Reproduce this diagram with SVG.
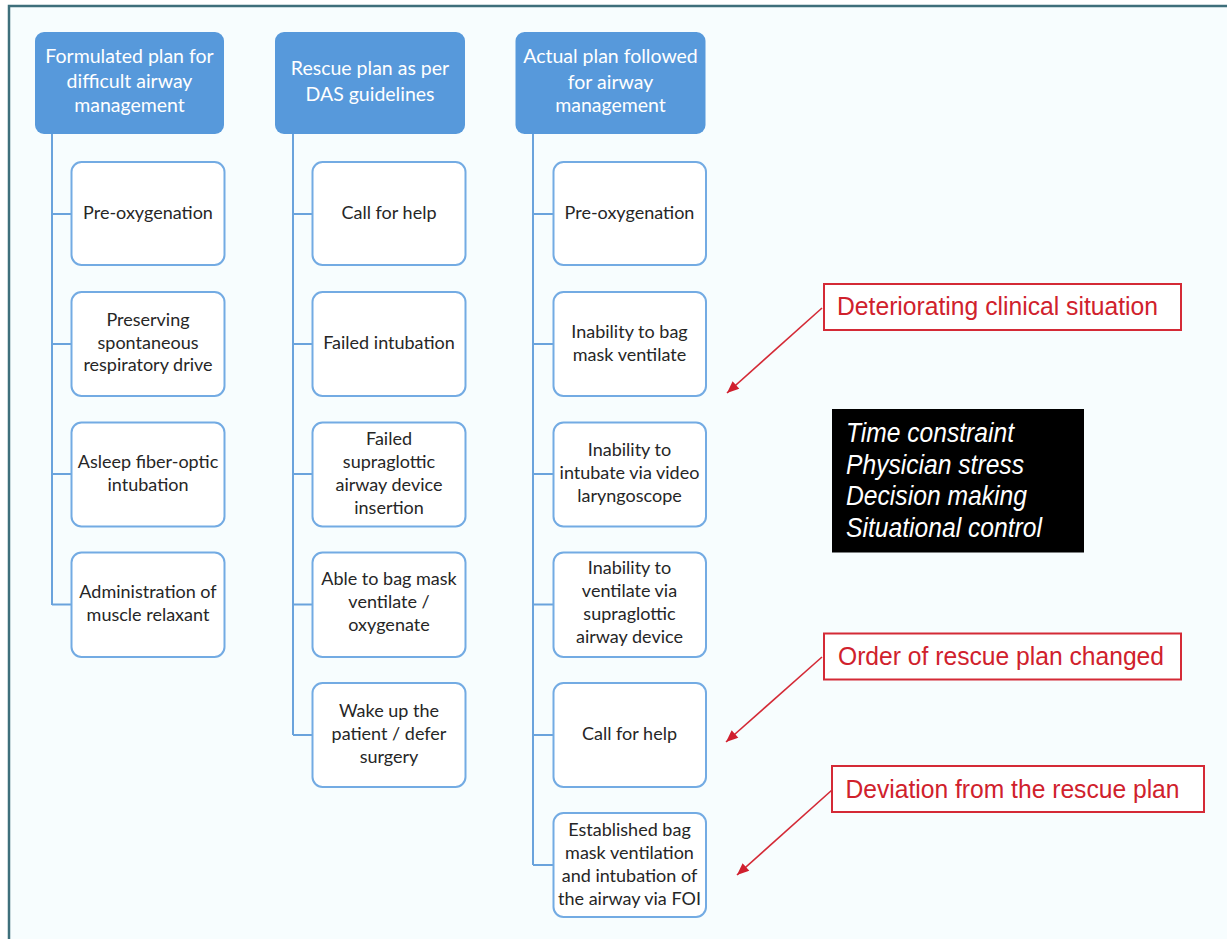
<svg xmlns="http://www.w3.org/2000/svg" width="1227" height="939" viewBox="0 0 1227 939">
<defs>
<style>
.bg{fill:#f7fdfe}
.frame{stroke:#3e6f7b;stroke-width:2.5;fill:none}
.hdr{fill:#5799db}
.hdrt{fill:#ffffff;font-family:Lato,"Open Sans",sans-serif;font-size:19.5px;text-anchor:middle}
.box{fill:#ffffff;stroke:#73abe3;stroke-width:2}
.bt{fill:#262626;font-family:Lato,"Open Sans",sans-serif;font-size:18px;text-anchor:middle}
.conn{stroke:#6aa3dc;stroke-width:2;fill:none}
.rbox{fill:#ffffff;stroke:#d42a36;stroke-width:2}
.rt{fill:#d0212c;font-family:"Liberation Sans",Arial,sans-serif;font-size:25px}
.arr{stroke:#d42a36;stroke-width:1.6;fill:none}
.blk{fill:#000000}
.wt{fill:#ffffff;font-family:"Liberation Sans",Arial,sans-serif;font-size:27px;font-style:italic}
</style>
<marker id="ah" viewBox="0 0 12 10" refX="12" refY="5" markerWidth="13" markerHeight="10" markerUnits="userSpaceOnUse" orient="auto">
<path d="M0,0 L12,5 L0,10 z" fill="#d01f2e"/>
</marker>
</defs>
<rect x="0" y="0" width="1227" height="939" fill="#ffffff"/>
<rect class="bg" x="9" y="6" width="1218" height="933"/>
<path class="frame" d="M9,939 L9,6 L1227,6"/>

<g id="connectors">
<path class="conn" d="M52,133 V605 M52,214 H71 M52,344 H71 M52,474 H71 M52,604.5 H71"/>
<path class="conn" d="M293,133 V735 M293,214 H312 M293,344 H312 M293,474 H312 M293,604.5 H312 M293,735 H312"/>
<path class="conn" d="M533,133 V865 M533,214 H553 M533,344 H553 M533,474 H553 M533,604.5 H553 M533,735 H553 M533,865 H553"/>
<line class="arr" x1="822" y1="308" x2="727" y2="393" marker-end="url(#ah)"/>
<line class="arr" x1="822" y1="657" x2="726" y2="742" marker-end="url(#ah)"/>
<line class="arr" x1="832" y1="790" x2="737" y2="875" marker-end="url(#ah)"/>
</g>

<g id="h1"><rect class="hdr" x="35" y="32" width="189" height="102" rx="9"/>
<text class="hdrt"><tspan x="129.5" y="63">Formulated plan for</tspan><tspan x="129.5" y="88">difficult airway</tspan><tspan x="129.5" y="112">management</tspan></text></g>
<g id="h2"><rect class="hdr" x="275" y="32" width="190" height="102" rx="9"/>
<text class="hdrt"><tspan x="370" y="75">Rescue plan as per</tspan><tspan x="370" y="101">DAS guidelines</tspan></text></g>
<g id="h3"><rect class="hdr" x="515.5" y="32" width="190" height="102" rx="9"/>
<text class="hdrt"><tspan x="610.5" y="63">Actual plan followed</tspan><tspan x="610.5" y="89">for airway</tspan><tspan x="610.5" y="112">management</tspan></text></g>

<g id="a1"><rect class="box" x="71.5" y="162" width="153" height="103" rx="10"/>
<text class="bt"><tspan x="148" y="219">Pre-oxygenation</tspan></text></g>
<g id="a2"><rect class="box" x="71.5" y="292" width="153" height="104" rx="10"/>
<text class="bt"><tspan x="148" y="326">Preserving</tspan><tspan x="148" y="348.5">spontaneous</tspan><tspan x="148" y="371">respiratory drive</tspan></text></g>
<g id="a3"><rect class="box" x="71.5" y="422.5" width="153" height="104" rx="10"/>
<text class="bt"><tspan x="148" y="468">Asleep fiber-optic</tspan><tspan x="148" y="491">intubation</tspan></text></g>
<g id="a4"><rect class="box" x="71.5" y="552.5" width="153" height="104.5" rx="10"/>
<text class="bt"><tspan x="148" y="598">Administration of</tspan><tspan x="148" y="621">muscle relaxant</tspan></text></g>

<g id="b1"><rect class="box" x="312.5" y="162" width="153" height="103" rx="10"/>
<text class="bt"><tspan x="389" y="218.5">Call for help</tspan></text></g>
<g id="b2"><rect class="box" x="312.5" y="292" width="153" height="104" rx="10"/>
<text class="bt"><tspan x="389" y="348.5">Failed intubation</tspan></text></g>
<g id="b3"><rect class="box" x="312.5" y="422.5" width="153" height="104" rx="10"/>
<text class="bt"><tspan x="389" y="445">Failed</tspan><tspan x="389" y="468">supraglottic</tspan><tspan x="389" y="491">airway device</tspan><tspan x="389" y="514">insertion</tspan></text></g>
<g id="b4"><rect class="box" x="312.5" y="552.5" width="153" height="104.5" rx="10"/>
<text class="bt"><tspan x="389" y="585">Able to bag mask</tspan><tspan x="389" y="608">ventilate /</tspan><tspan x="389" y="631">oxygenate</tspan></text></g>
<g id="b5"><rect class="box" x="312.5" y="683" width="153" height="104" rx="10"/>
<text class="bt"><tspan x="389" y="717">Wake up the</tspan><tspan x="389" y="740">patient / defer</tspan><tspan x="389" y="763">surgery</tspan></text></g>

<g id="c1"><rect class="box" x="553.5" y="162" width="152.5" height="103" rx="10"/>
<text class="bt"><tspan x="629.5" y="218.5">Pre-oxygenation</tspan></text></g>
<g id="c2"><rect class="box" x="553.5" y="292" width="152.5" height="104" rx="10"/>
<text class="bt"><tspan x="629.5" y="337.5">Inability to bag</tspan><tspan x="629.5" y="360.5">mask ventilate</tspan></text></g>
<g id="c3"><rect class="box" x="553.5" y="422.5" width="152.5" height="104" rx="10"/>
<text class="bt"><tspan x="629.5" y="456">Inability to</tspan><tspan x="629.5" y="479">intubate via video</tspan><tspan x="629.5" y="502">laryngoscope</tspan></text></g>
<g id="c4"><rect class="box" x="553.5" y="552.5" width="152.5" height="104.5" rx="10"/>
<text class="bt"><tspan x="629.5" y="574">Inability to</tspan><tspan x="629.5" y="597">ventilate via</tspan><tspan x="629.5" y="620">supraglottic</tspan><tspan x="629.5" y="643">airway device</tspan></text></g>
<g id="c5"><rect class="box" x="553.5" y="683" width="152.5" height="104" rx="10"/>
<text class="bt"><tspan x="629.5" y="740">Call for help</tspan></text></g>
<g id="c6"><rect class="box" x="553.5" y="813" width="152.5" height="104" rx="10"/>
<text class="bt"><tspan x="629.5" y="836">Established bag</tspan><tspan x="629.5" y="859">mask ventilation</tspan><tspan x="629.5" y="882">and intubation of</tspan><tspan x="629.5" y="905">the airway via FOI</tspan></text></g>

<g id="r1"><rect class="rbox" x="824" y="284" width="357" height="46"/>
<text class="rt" x="837" y="315" textLength="321" lengthAdjust="spacingAndGlyphs">Deteriorating clinical situation</text></g>
<g id="k1"><rect class="blk" x="832" y="409" width="252" height="143.5"/>
<text class="wt"><tspan x="846" y="442" textLength="168" lengthAdjust="spacingAndGlyphs">Time constraint</tspan><tspan x="846" y="473.5" textLength="178" lengthAdjust="spacingAndGlyphs">Physician stress</tspan><tspan x="846" y="505" textLength="181" lengthAdjust="spacingAndGlyphs">Decision making</tspan><tspan x="846" y="537" textLength="196" lengthAdjust="spacingAndGlyphs">Situational control</tspan></text></g>
<g id="r2"><rect class="rbox" x="824" y="633.5" width="357" height="46"/>
<text class="rt" x="838" y="665" textLength="326" lengthAdjust="spacingAndGlyphs">Order of rescue plan changed</text></g>
<g id="r3"><rect class="rbox" x="832" y="766" width="372" height="46"/>
<text class="rt" x="845.5" y="797.5" textLength="334" lengthAdjust="spacingAndGlyphs">Deviation from the rescue plan</text></g>
</svg>
